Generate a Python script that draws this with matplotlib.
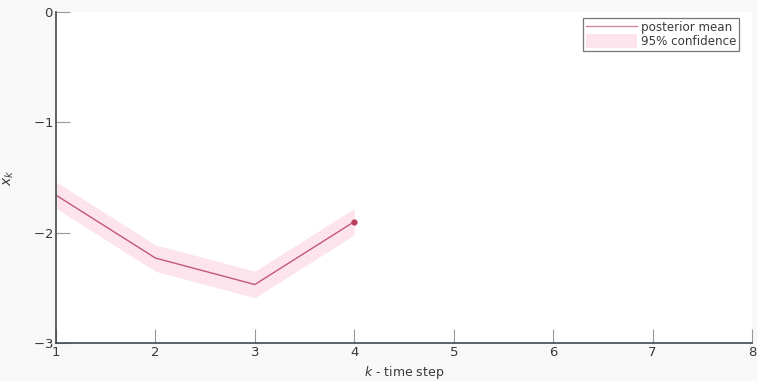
import matplotlib
matplotlib.use("Agg")
import matplotlib.pyplot as plt
import numpy as np

plt.rcParams['font.family'] = ['DejaVu Sans']
plt.rcParams['mathtext.fontset'] = 'dejavusans'

# Posterior estimates per time step
steps = [1, 2, 3, 4]
post_mean = [-1.66, -2.23, -2.47, -1.90]
ci_half = [0.12, 0.12, 0.12, 0.12]
x_ticks = [1, 2, 3, 4, 5, 6, 7, 8]
y_ticks = [0, -1, -2, -3]

line_color = "#c2577a"
band_color = "#fde4ec"
spine_color = "#3e4a4f"
text_color = "#3a3a3a"

W, H = 757, 381
fig = plt.figure(figsize=(W / 100, H / 100), dpi=100, facecolor="#f8f8f8")
ax = fig.add_axes([56 / W, 1 - 343 / H, (752 - 56) / W, (343 - 12) / H])
ax.set_facecolor("white")

mean = np.array(post_mean)
half = np.array(ci_half)
ax.fill_between(steps, mean - half, mean + half, color=band_color, lw=0,
                label="95% confidence")
ax.plot(steps, post_mean, color=line_color, lw=1.0, label="posterior mean")
ax.plot(steps[-1], post_mean[-1], "o", color="#b8405f", ms=3.5)

ax.set_xlim(1, 8)
ax.set_ylim(-3, 0)
ax.set_xticks(x_ticks)
ax.set_yticks(y_ticks)
ax.set_yticklabels([r"$0$" if v == 0 else r"$-%d$" % abs(v) for v in y_ticks])

for s in ["top", "right"]:
    ax.spines[s].set_visible(False)
for s in ["left", "bottom"]:
    ax.spines[s].set_color(spine_color)
    ax.spines[s].set_linewidth(1.2)

ax.tick_params(direction="in", length=10, width=0.8, color="#9a9a9a",
               labelcolor=text_color, labelsize=9.5, pad=2)

ax.set_xlabel(r"$k$ - time step", fontsize=9, color=text_color, labelpad=4)
ax.set_ylabel(r"$x_k$", fontsize=10, color=text_color, labelpad=12)

handles, labels = ax.get_legend_handles_labels()
leg = ax.legend(handles[::-1], labels[::-1], loc="upper right",
                bbox_to_anchor=(739 / W, 1 - 18 / H),
                bbox_transform=fig.transFigure,
                fontsize=8.6, frameon=True, fancybox=False,
                handlelength=4.3, handleheight=1.3, handletextpad=0.3,
                borderpad=0.25, labelspacing=0.0, borderaxespad=0.0)
leg.get_frame().set_edgecolor("#555555")
leg.get_frame().set_linewidth(0.9)
leg.get_lines()[0].set_color("#d48a9c")
for t in leg.get_texts():
    t.set_color(text_color)

fig.savefig("out.png", dpi=100, facecolor=fig.get_facecolor())
